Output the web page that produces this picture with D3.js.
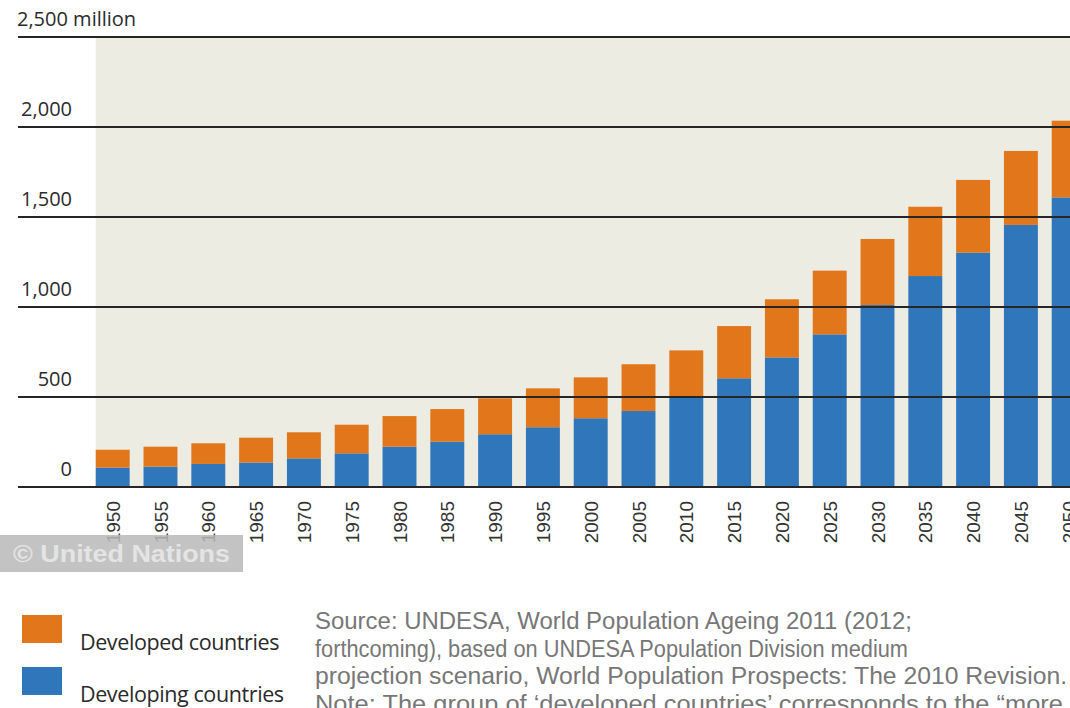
<!DOCTYPE html>
<html>
<head>
<meta charset="utf-8">
<script src="https://cdn.jsdelivr.net/npm/d3@7"></script>
<style>
  html, body { margin: 0; padding: 0; background: #fff; overflow: hidden; }
  svg { display: block; }
</style>
</head>
<body>
<div id="chart"></div>
<script>
// Population aged 60+ (millions)
const years = ["1950", "1955", "1960", "1965", "1970", "1975", "1980", "1985", "1990", "1995", "2000",
    "2005", "2010", "2015", "2020", "2025", "2030", "2035", "2040", "2045", "2050"];
const developing = [108, 113, 128, 136, 159, 187, 224, 252, 293, 332, 382,
    422, 495, 604, 720, 848, 1011, 1172, 1302, 1456, 1609];
const developed = [99, 111, 115, 138, 145, 159, 170, 181, 200, 216, 227,
    260, 264, 290, 323, 354, 367, 385, 404, 411, 426];
const yTicks = [0, 500, 1000, 1500, 2000, 2500];
const legendItems = ["Developed countries", "Developing countries"];
const sourceLines = [
    "Source: UNDESA, World Population Ageing 2011 (2012;",
    "forthcoming), based on UNDESA Population Division medium",
    "projection scenario, World Population Prospects: The 2010 Revision.",
    "Note: The group of \u2018developed countries\u2019 corresponds to the \u201cmore"
];

const width = 1070, height = 708;
const orange = "#e2761b", blue = "#2f76bb", plotBg = "#ececE2";

const svg = d3.select("#chart").append("svg")
    .attr("width", width)
    .attr("height", height);

const xScale = d3.scaleBand()
    .domain(years)
    .range([88.8, 1092.6])
    .paddingInner(0.29)
    .paddingOuter(0.145);

const yScale = d3.scaleLinear()
    .domain([0, 2500])
    .range([487, 37]);

// plot background
svg.append("rect")
    .attr("x", xScale(years[0]))
    .attr("y", yScale(2500))
    .attr("width", width - xScale(years[0]))
    .attr("height", yScale(0) - yScale(2500))
    .attr("fill", plotBg);

// stacked bars
const rows = years.map((y, i) => ({ year: y, developing: developing[i], developed: developed[i] }));
const stacked = d3.stack().keys(["developing", "developed"])(rows);
const color = { developing: blue, developed: orange };

svg.append("g").selectAll("g")
    .data(stacked)
    .join("g")
    .attr("fill", d => color[d.key])
    .selectAll("rect")
    .data(d => d)
    .join("rect")
    .attr("x", d => xScale(d.data.year))
    .attr("y", d => yScale(d[1]))
    .attr("width", xScale.bandwidth())
    .attr("height", d => yScale(d[0]) - yScale(d[1]));

// gridlines
svg.append("g").selectAll("line")
    .data(yTicks)
    .join("line")
    .attr("x1", 18)
    .attr("x2", width)
    .attr("y1", d => yScale(d))
    .attr("y2", d => yScale(d))
    .attr("stroke", "#262626")
    .attr("stroke-width", 2);

// y labels
svg.append("g").selectAll("text")
    .data(yTicks)
    .join("text")
    .attr("x", d => d === 2500 ? 17 : 72)
    .attr("y", d => yScale(d) - 11)
    .attr("text-anchor", d => d === 2500 ? "start" : "end")
    .style("font-family", "'Open Sans', sans-serif")
    .style("font-size", "20px")
    .attr("fill", "#2b2b2b")
    .text(d => d === 0 ? "0" : d3.format(",")(d) + (d === 2500 ? " million" : ""));

// x labels
svg.append("g").selectAll("text")
    .data(years)
    .join("text")
    .attr("transform", d => `translate(${xScale(d) + xScale.bandwidth() / 2 + 7},501) rotate(-90)`)
    .attr("text-anchor", "end")
    .style("font-family", "'Liberation Sans', Arial, sans-serif")
    .style("font-size", "19px")
    .attr("fill", "#333")
    .text(d => d);

// watermark
const wm = svg.append("g");
wm.append("rect")
    .attr("x", 0).attr("y", 535)
    .attr("width", 243).attr("height", 37)
    .attr("fill", "#b9b9b9")
    .attr("opacity", 0.85);
wm.append("text")
    .attr("x", 13).attr("y", 562)
    .style("font-family", "'Liberation Sans', Arial, sans-serif")
    .style("font-size", "24px")
    .style("font-weight", "bold")
    .attr("fill", "#e4e4e4")
    .attr("textLength", 217)
    .attr("lengthAdjust", "spacingAndGlyphs")
    .text("\u00a9 United Nations");

// legend
const legend = svg.append("g").selectAll("g")
    .data(legendItems)
    .join("g")
    .attr("transform", (d, i) => `translate(22, ${615 + i * 52})`);
legend.append("rect")
    .attr("width", 40).attr("height", 28)
    .attr("fill", (d, i) => i === 0 ? orange : blue);
legend.append("text")
    .attr("x", 58).attr("y", 35)
    .style("font-family", "'Open Sans', sans-serif")
    .style("font-size", "21.5px")
    .style("letter-spacing", "-0.4px")
    .attr("fill", "#2a2a2a")
    .text(d => d);

// source note
svg.append("g").selectAll("text")
    .data(sourceLines)
    .join("text")
    .attr("x", 315)
    .attr("y", (d, i) => 629 + i * 27.5)
    .style("font-family", "'Liberation Sans', Arial, sans-serif")
    .style("font-size", "23px")
    .attr("fill", "#777")
    .attr("textLength", (d, i) => [597, 593, 752, 748][i])
    .attr("lengthAdjust", "spacingAndGlyphs")
    .text(d => d);
</script>
</body>
</html>
